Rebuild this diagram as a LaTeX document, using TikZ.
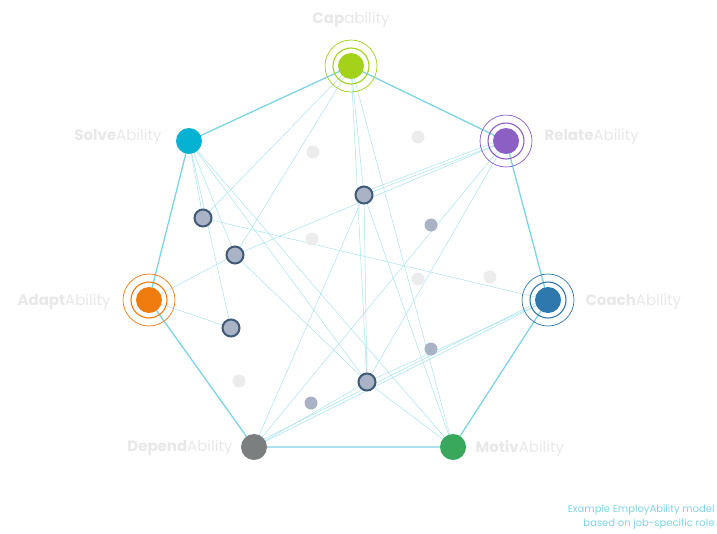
\documentclass[tikz,border=0pt]{standalone}
\usepackage{fontspec}
\setmainfont{Poppins}
\begin{document}
\begin{tikzpicture}[x=1pt,y=-1pt,
  edge/.style={draw=cyan!45!white!90!blue, line width=1.3pt},
  link/.style={draw=cyan!35!white, line width=0.5pt},
  hub/.style={circle, inner sep=0pt, minimum size=26pt},
  inner/.style={circle, fill=gray!50!blue!25!white, draw=blue!40!black!70!gray, line width=2pt, minimum size=16pt, inner sep=0pt},
  sdot/.style={circle, fill=blue!20!gray!40!white, minimum size=13pt, inner sep=0pt},
  ldot/.style={circle, fill=gray!15!white, minimum size=13pt, inner sep=0pt},
  lab/.style={text=gray!18!white, font=\fontsize{15}{18}\selectfont},
  ringa/.style={draw, line width=0.9pt}]
\useasboundingbox (0,0) rectangle (717,533);
\definecolor{ccap}{HTML}{A4D11A}\definecolor{csol}{HTML}{06B2D2}
\definecolor{crel}{HTML}{8B5FC4}\definecolor{cada}{HTML}{F07C0F}
\definecolor{ccoa}{HTML}{2F78AD}\definecolor{cdep}{HTML}{7B7F80}
\definecolor{cmot}{HTML}{3AA85C}\definecolor{cedge}{HTML}{7FD3E6}
\definecolor{clink}{HTML}{A8E3EE}\definecolor{cdot}{HTML}{AAB3C5}
\definecolor{cring}{HTML}{3F5A78}
\tikzset{edge/.style={draw=cedge, line width=1.3pt}, link/.style={draw=clink, line width=0.5pt},
  inner/.style={circle, fill=cdot, draw=cring, line width=2pt, minimum size=17pt, inner sep=0pt},
  sdot/.style={circle, fill=cdot, minimum size=13pt, inner sep=0pt}}
% coordinates
\coordinate (cap) at (351,66); \coordinate (sol) at (189,141);
\coordinate (rel) at (506,141); \coordinate (ada) at (149,300);
\coordinate (coa) at (548,300); \coordinate (dep) at (254,447);
\coordinate (mot) at (453,447);
\coordinate (A) at (203,218); \coordinate (B) at (235,255);
\coordinate (C) at (231,328); \coordinate (D) at (364,195);
\coordinate (E) at (367,382);
% links
\foreach \p/\q in {sol/A,sol/B,sol/C,sol/E,sol/mot,cap/A,cap/B,cap/D,cap/E,cap/mot,
  rel/D,rel/B,rel/dep,rel/E,coa/A,ada/B,ada/C,coa/E,coa/dep,D/dep,D/mot,D/E,E/dep,E/mot,B/E}
  \draw[link] (\p) -- (\q);
\draw[link] ([yshift=3pt]rel) -- ([yshift=3pt]D);
\draw[link] ([yshift=3pt]coa) -- ([yshift=3pt]dep);
% polygon
\draw[edge] (cap) -- (rel) -- (coa) -- (mot) -- (dep) -- (ada) -- (sol) -- cycle;
% faint dots
\foreach \x/\y in {313/152,418/137,312/239,418/279,490/277,239/381}
  \node[ldot] at (\x,\y) {};
\node[sdot] (s1) at (431,225) {};
\node[sdot] (s2) at (431,349) {};
\node[sdot] (s3) at (311,403) {};
\foreach \n in {A,B,C,D,E} \node[inner] (n\n) at (\n) {};
% hubs
\foreach \c/\col/\r in {cap/ccap/1,sol/csol/0,rel/crel/1,ada/cada/1,coa/ccoa/1,dep/cdep/0,mot/cmot/0}{
  \node[hub, fill=\col] (h\c) at (\c) {};
  \ifnum\r=1
    \draw[\col, line width=1.1pt] (\c) circle (18);
    \draw[\col, line width=0.7pt] (\c) circle (26);
  \fi}
% labels
\node[lab] (lcap) at (351,20) {\textbf{Cap}ability};
\node[lab, anchor=east] (lsol) at (165,137) {\textbf{Solve}Ability};
\node[lab, anchor=west] (lrel) at (541,137) {\textbf{Relate}Ability};
\node[lab, anchor=east] (lada) at (114,302) {\textbf{Adapt}Ability};
\node[lab, anchor=west] (lcoa) at (582,302) {\textbf{Coach}Ability};
\node[lab, anchor=east] (ldep) at (236,448) {\textbf{Depend}Ability};
\node[lab, anchor=west] (lmot) at (472,448) {\textbf{Motiv}Ability};
\node[text=cedge, font=\fontsize{10}{14}\selectfont, align=right, anchor=south east] (cap2) at (718,533)
  {Example EmployAbility model\\based on job-specific role};
\end{tikzpicture}
\end{document}
